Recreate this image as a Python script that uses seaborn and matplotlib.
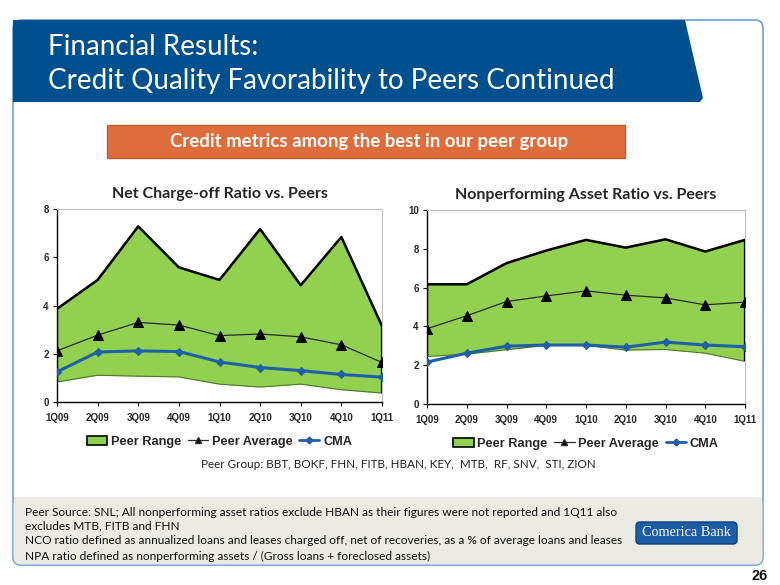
import matplotlib
matplotlib.use("Agg")
import matplotlib.pyplot as plt
import numpy as np
import pandas as pd
import seaborn as sns
from matplotlib.patches import Polygon, FancyBboxPatch, Rectangle
from matplotlib.lines import Line2D
from matplotlib.patches import Patch

quarters = ["1Q09", "2Q09", "3Q09", "4Q09", "1Q10", "2Q10", "3Q10", "4Q10", "1Q11"]

nco_high = [3.86, 5.06, 7.28, 5.58, 5.06, 7.17, 4.84, 6.84, 3.15]
nco_low = [0.83, 1.11, 1.07, 1.04, 0.74, 0.62, 0.74, 0.51, 0.37]
nco_avg = [2.12, 2.77, 3.30, 3.19, 2.75, 2.82, 2.70, 2.37, 1.64]
nco_cma = [1.25, 2.07, 2.12, 2.09, 1.66, 1.43, 1.30, 1.14, 1.03]

npa_high = [6.17, 6.17, 7.26, 7.91, 8.46, 8.06, 8.49, 7.86, 8.46]
npa_low = [2.45, 2.57, 2.80, 3.02, 3.02, 2.78, 2.81, 2.62, 2.20]
npa_avg = [3.88, 4.55, 5.28, 5.57, 5.83, 5.61, 5.47, 5.11, 5.25]
npa_cma = [2.16, 2.62, 2.98, 3.04, 3.04, 2.93, 3.19, 3.04, 2.95]

sns.set_theme(style="white")
plt.rcParams['font.family'] = ['Liberation Sans', 'DejaVu Sans']

W, H = 780, 585
fig = plt.figure(figsize=(7.8, 5.85), dpi=100)
fig.patch.set_facecolor("white")

# background overlay in pixel coords
bg = fig.add_axes([0, 0, 1, 1], zorder=0)
bg.set_xlim(0, W)
bg.set_ylim(H, 0)
bg.axis("off")

# page border
bg.add_patch(FancyBboxPatch((13, 20), 750, 545, boxstyle="round,pad=0,rounding_size=8",
                            facecolor="white", edgecolor="#6f9fd2", lw=1.2))
# footer box
bg.add_patch(FancyBboxPatch((13.6, 497), 748.8, 67.4, boxstyle="round,pad=0,rounding_size=7",
                            facecolor="#ebebe4", edgecolor="none"))
bg.add_patch(Rectangle((13.6, 497), 748.8, 10, facecolor="#ebebe4", edgecolor="none"))
# title banner
bg.add_patch(Polygon([(13, 20), (685, 20), (703, 98), (700, 102), (13, 102)],
                     closed=True, facecolor="#00508f", edgecolor="none"))
bg.text(48, 47, "Financial Results:", color="white", fontsize=20, family="Lato",
        va="center", ha="left")
bg.text(48, 81, "Credit Quality Favorability to Peers Continued", color="white",
        fontsize=20, family="Lato", va="center", ha="left")
# orange box
bg.add_patch(Rectangle((107, 125), 518, 33, facecolor="#df6d3c", edgecolor="#c05a30", lw=1))
bg.text(369, 141.5, "Credit metrics among the best in our peer group", color="white",
        fontsize=13.4, family="Lato", weight="bold", va="center", ha="center")

bg.text(398, 465, "Peer Group: BBT, BOKF, FHN, FITB, HBAN, KEY,  MTB,  RF, SNV,  STI, ZION",
        fontsize=8.4, family="Lato", color="#222222", ha="center", va="center")

foot = ["Peer Source: SNL; All nonperforming asset ratios exclude HBAN as their figures were not reported and 1Q11 also",
        "excludes MTB, FITB and FHN",
        "NCO ratio defined as annualized loans and leases charged off, net of recoveries, as a % of average loans and leases",
        "NPA ratio defined as nonperforming assets / (Gross loans + foreclosed assets)"]
for t, y in zip(foot, [513, 526, 541, 556]):
    bg.text(25, y, t, fontsize=8.6, family="Lato", color="#111111", ha="left", va="center")

# logo
bg.add_patch(FancyBboxPatch((636, 522), 101, 22, boxstyle="round,pad=0,rounding_size=4",
                            facecolor="#1d5da6", edgecolor="#0b3f7c", lw=1))
bg.text(686.5, 533, "Comerica Bank", color="white", fontsize=10.3, family="Liberation Serif",
        ha="center", va="center")
bg.text(768, 576, "26", fontsize=10.5, weight="bold", ha="right", va="center", color="#111111")

GREEN = "#92d050"
BLUE = "#1f5fa8"


def draw(ax, high, low, avg, cma, ymax, title):
    df = pd.DataFrame({"q": quarters, "x": np.arange(len(quarters)),
                       "high": high, "low": low, "avg": avg, "cma": cma})
    ax.fill_between(df["x"], df["low"], df["high"], color=GREEN, lw=0, zorder=1)
    sns.lineplot(data=df, x="x", y="high", ax=ax, color="black", lw=1.8, zorder=3)
    sns.lineplot(data=df, x="x", y="low", ax=ax, color="#4d7a2a", lw=0.8, zorder=3)
    ax.vlines([df["x"].iloc[0], df["x"].iloc[-1]], [df["low"].iloc[0], df["low"].iloc[-1]],
              [df["high"].iloc[0], df["high"].iloc[-1]], color="black", lw=1.6, zorder=3)
    sns.lineplot(data=df, x="x", y="avg", ax=ax, color="#2a2a2a", lw=0.9, marker="^",
                 markersize=6.5, markerfacecolor="black", markeredgecolor="black", zorder=4)
    sns.lineplot(data=df, x="x", y="cma", ax=ax, color=BLUE, lw=2.2, marker="D",
                 markersize=4, markerfacecolor=BLUE, markeredgecolor=BLUE, zorder=5)
    ax.set_xlim(0, len(quarters) - 1)
    ax.set_ylim(0, ymax)
    ax.set_xticks(df["x"])
    ax.set_xticklabels(quarters)
    ax.set_yticks(np.arange(0, ymax + 1, 2))
    ax.set_xlabel("")
    ax.set_ylabel("")
    for lab in ax.get_xticklabels() + ax.get_yticklabels():
        lab.set_fontweight("bold")
        lab.set_fontsize(7)
    ax.tick_params(axis="both", length=3, width=0.8, color="black", pad=3, direction="out",
                   bottom=True, left=True)
    ax.tick_params(axis="x", pad=5)
    for s in ["left", "bottom"]:
        ax.spines[s].set_color("black")
        ax.spines[s].set_linewidth(1.0)
    for s in ["top", "right"]:
        ax.spines[s].set_color("#bfbfbf")
        ax.spines[s].set_linewidth(0.8)
    ax.set_facecolor("white")
    ax.set_title(title, fontsize=11.5, weight="bold", family="Lato", pad=8)
    ax.grid(False)
    handles = [Patch(facecolor=GREEN, edgecolor="black", lw=1.2, label="Peer Range"),
               Line2D([], [], color="#2a2a2a", lw=0.9, marker="^", markersize=5,
                      markerfacecolor="black", label="Peer Average"),
               Line2D([], [], color=BLUE, lw=2, marker="D", markersize=3.5, label="CMA")]
    ax.legend(handles=handles, loc="upper center", bbox_to_anchor=(0.5, -0.115), ncol=3,
              frameon=False, handlelength=1.6, handletextpad=0.3,
              columnspacing=0.5, prop={"weight": "bold", "size": 9.2})


ax1 = fig.add_axes([57 / W, 1 - 402 / H, (382 - 57) / W, (402 - 209) / H], zorder=2)
draw(ax1, nco_high, nco_low, nco_avg, nco_cma, 8, "Net Charge-off Ratio vs. Peers")
ax2 = fig.add_axes([427 / W, 1 - 404 / H, (745 - 427) / W, (404 - 210) / H], zorder=2)
draw(ax2, npa_high, npa_low, npa_avg, npa_cma, 10, "Nonperforming Asset Ratio vs. Peers")

fig.savefig("out.png", dpi=100, facecolor="white")
